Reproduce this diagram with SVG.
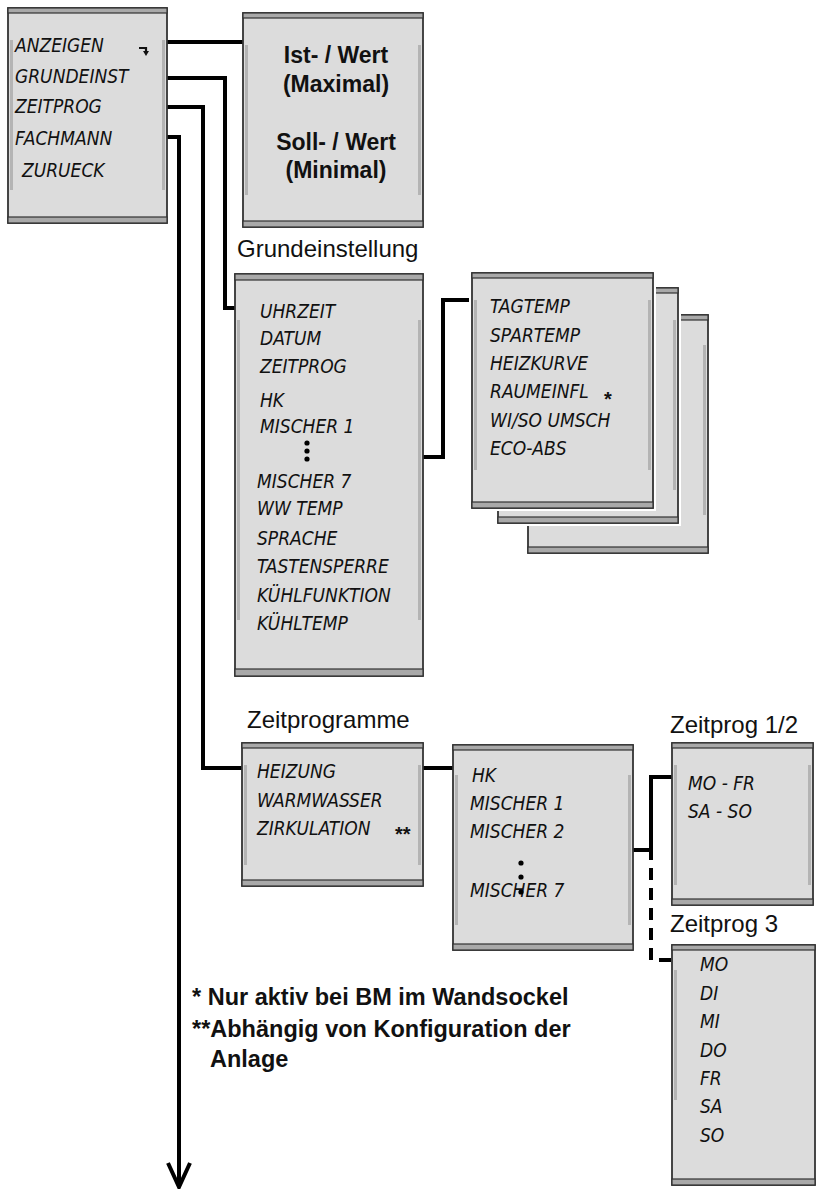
<svg xmlns="http://www.w3.org/2000/svg" width="816" height="1189" viewBox="0 0 816 1189">
<style>
.face{fill:#dcdcdc;stroke:#333;stroke-width:1.8}
.band{fill:#a9a9a9;stroke:#333;stroke-width:1.2}
.side{fill:#b4b4b4;stroke:none}
.halo{fill:#ffffff;stroke:none}
.lcd{font-family:"Liberation Sans Narrow","DejaVu Sans Condensed",sans-serif;font-style:italic;font-size:19px;fill:#111}
.lbl{font-family:"Liberation Sans",Arial,sans-serif;font-size:24px;fill:#111}
.bold{font-family:"Liberation Sans",Arial,sans-serif;font-weight:bold;font-size:23px;fill:#111}
.note{font-family:"Liberation Sans",Arial,sans-serif;font-weight:bold;font-size:23.5px;fill:#111}
.star{font-family:"Liberation Sans",Arial,sans-serif;font-weight:bold;font-size:20px;fill:#111}
.wire{fill:none;stroke:#000;stroke-width:4}
.dash{fill:none;stroke:#000;stroke-width:4;stroke-dasharray:12 8}
.dot{fill:#000}
</style>

<g id="connectors">
  <path class="wire" d="M167 42 H243"/>
  <path class="wire" d="M167 78 H225 V308 H235"/>
  <path class="wire" d="M167 107 H203 V768 H242"/>
  <path class="wire" d="M167 137 H179 V1186"/>
  <polyline class="wire" points="168,1163 179,1187 190,1163"/>
  <path class="wire" d="M395 395 V512"/>
  <path class="wire" d="M395 457 H443 V300 H472"/>
  <path class="wire" d="M423 768 H453"/>
  <path class="wire" d="M598 772 V925"/>
  <path class="wire" d="M598 850 H651 V777 H672"/>
  <path class="wire" d="M651 848 V860"/>
  <path class="dash" d="M651 868 V960 H672"/>
</g>

<g id="node-menu">
  <rect class="face" x="8" y="8" width="159" height="215"/>
  <rect class="side" x="10" y="40" width="3" height="150"/>
  <rect class="side" x="162" y="40" width="3" height="150"/>
  <rect class="band" x="8" y="8" width="159" height="5"/>
  <rect class="band" x="8" y="217" width="159" height="6"/>
  <text class="lcd" x="15" y="52">ANZEIGEN</text>
  <text class="lcd" x="15" y="83">GRUNDEINST</text>
  <text class="lcd" x="15" y="113">ZEITPROG</text>
  <text class="lcd" x="15" y="145">FACHMANN</text>
  <text class="lcd" x="22" y="177">ZURUECK</text>
  <path d="M139 48 H146 V52" fill="none" stroke="#111" stroke-width="2.2"/>
  <polygon points="143,51 149,51 146,56" fill="#111"/>
</g>

<g id="node-istwert">
  <rect class="face" x="243" y="13" width="180" height="214"/>
  <rect class="side" x="245" y="45" width="3" height="150"/>
  <rect class="side" x="418" y="45" width="3" height="150"/>
  <rect class="band" x="243" y="13" width="180" height="5"/>
  <rect class="band" x="243" y="221" width="180" height="6"/>
  <text class="bold" x="336" y="63" text-anchor="middle">Ist- / Wert</text>
  <text class="bold" x="336" y="92" text-anchor="middle">(Maximal)</text>
  <text class="bold" x="336" y="150" text-anchor="middle">Soll- / Wert</text>
  <text class="bold" x="336" y="178" text-anchor="middle">(Minimal)</text>
</g>

<g id="node-grundeinstellung">
  <text class="lbl" x="237" y="257">Grundeinstellung</text>
  <rect class="face" x="235" y="274" width="188" height="402"/>
  <rect class="side" x="237" y="320" width="3" height="300"/>
  <rect class="side" x="418" y="320" width="3" height="300"/>
  <rect class="band" x="235" y="274" width="188" height="6"/>
  <rect class="band" x="235" y="669" width="188" height="7"/>
  <text class="lcd" x="260" y="318">UHRZEIT</text>
  <text class="lcd" x="260" y="345">DATUM</text>
  <text class="lcd" x="260" y="373">ZEITPROG</text>
  <text class="lcd" x="260" y="407">HK</text>
  <text class="lcd" x="260" y="433">MISCHER 1</text>
  <circle class="dot" cx="307" cy="443" r="2.6"/>
  <circle class="dot" cx="307" cy="451" r="2.6"/>
  <circle class="dot" cx="307" cy="459" r="2.6"/>
  <text class="lcd" x="257" y="488">MISCHER 7</text>
  <text class="lcd" x="257" y="515">WW TEMP</text>
  <text class="lcd" x="257" y="545">SPRACHE</text>
  <text class="lcd" x="257" y="573">TASTENSPERRE</text>
  <text class="lcd" x="257" y="602">KÜHLFUNKTION</text>
  <text class="lcd" x="257" y="630">KÜHLTEMP</text>
</g>

<g id="node-hk-settings">
  <rect class="halo" x="525" y="312" width="186" height="244"/>
  <rect class="face" x="528" y="315" width="180" height="238"/>
  <rect class="side" x="703" y="345" width="3" height="170"/>
  <rect class="band" x="528" y="315" width="180" height="5"/>
  <rect class="band" x="528" y="547" width="180" height="6"/>
  <rect class="halo" x="495" y="285" width="186" height="241"/>
  <rect class="face" x="498" y="288" width="180" height="235"/>
  <rect class="side" x="673" y="320" width="3" height="170"/>
  <rect class="band" x="498" y="288" width="180" height="5"/>
  <rect class="band" x="498" y="517" width="180" height="6"/>
  <rect class="halo" x="469" y="270" width="187" height="241"/>
  <rect class="face" x="472" y="273" width="181" height="235"/>
  <rect class="side" x="474" y="300" width="3" height="170"/>
  <rect class="side" x="648" y="300" width="3" height="170"/>
  <rect class="band" x="472" y="273" width="181" height="5"/>
  <rect class="band" x="472" y="502" width="181" height="6"/>
  <text class="lcd" x="490" y="313">TAGTEMP</text>
  <text class="lcd" x="490" y="342">SPARTEMP</text>
  <text class="lcd" x="490" y="370">HEIZKURVE</text>
  <text class="lcd" x="490" y="398">RAUMEINFL</text>
  <text class="star" x="604" y="406">*</text>
  <text class="lcd" x="490" y="427">WI/SO UMSCH</text>
  <text class="lcd" x="490" y="455">ECO-ABS</text>
</g>

<g id="node-zeitprogramme">
  <text class="lbl" x="247" y="728">Zeitprogramme</text>
  <rect class="face" x="242" y="743" width="181" height="143"/>
  <rect class="side" x="244" y="765" width="3" height="100"/>
  <rect class="side" x="418" y="765" width="3" height="100"/>
  <rect class="band" x="242" y="743" width="181" height="5"/>
  <rect class="band" x="242" y="880" width="181" height="6"/>
  <text class="lcd" x="257" y="778">HEIZUNG</text>
  <text class="lcd" x="257" y="807">WARMWASSER</text>
  <text class="lcd" x="257" y="835">ZIRKULATION</text>
  <text class="star" x="395" y="841">**</text>
</g>

<g id="node-hk-list">
  <rect class="face" x="453" y="745" width="180" height="205"/>
  <rect class="side" x="455" y="775" width="3" height="150"/>
  <rect class="side" x="628" y="775" width="3" height="150"/>
  <rect class="band" x="453" y="745" width="180" height="5"/>
  <rect class="band" x="453" y="944" width="180" height="6"/>
  <text class="lcd" x="472" y="782">HK</text>
  <text class="lcd" x="470" y="810">MISCHER 1</text>
  <text class="lcd" x="470" y="838">MISCHER 2</text>
  <circle class="dot" cx="521" cy="863" r="2.6"/>
  <circle class="dot" cx="521" cy="877" r="2.6"/>
  <text class="lcd" x="470" y="897">MISCHER 7</text>
  <circle class="dot" cx="521" cy="892" r="2.6"/>
</g>

<g id="node-zeitprog12">
  <text class="lbl" x="670" y="733">Zeitprog 1/2</text>
  <rect class="face" x="672" y="743" width="141" height="162"/>
  <rect class="side" x="674" y="765" width="3" height="120"/>
  <rect class="side" x="808" y="765" width="3" height="120"/>
  <rect class="band" x="672" y="743" width="141" height="5"/>
  <rect class="band" x="672" y="899" width="141" height="6"/>
  <text class="lcd" x="688" y="790">MO - FR</text>
  <text class="lcd" x="688" y="818">SA - SO</text>
</g>

<g id="node-zeitprog3">
  <text class="lbl" x="670" y="932">Zeitprog 3</text>
  <rect class="face" x="672" y="945" width="143" height="240"/>
  <rect class="side" x="674" y="970" width="3" height="130"/>
  <rect class="band" x="672" y="945" width="143" height="5"/>
  <rect class="band" x="672" y="1179" width="143" height="6"/>
  <text class="lcd" x="700" y="971">MO</text>
  <text class="lcd" x="700" y="1000">DI</text>
  <text class="lcd" x="700" y="1028">MI</text>
  <text class="lcd" x="700" y="1057">DO</text>
  <text class="lcd" x="700" y="1085">FR</text>
  <text class="lcd" x="700" y="1113">SA</text>
  <text class="lcd" x="700" y="1142">SO</text>
</g>

<g id="notes">
  <text class="note" x="192" y="1005">* Nur aktiv bei BM im Wandsockel</text>
  <text class="note" x="192" y="1037">**Abhängig von Konfiguration der</text>
  <text class="note" x="210" y="1067">Anlage</text>
</g>
</svg>
